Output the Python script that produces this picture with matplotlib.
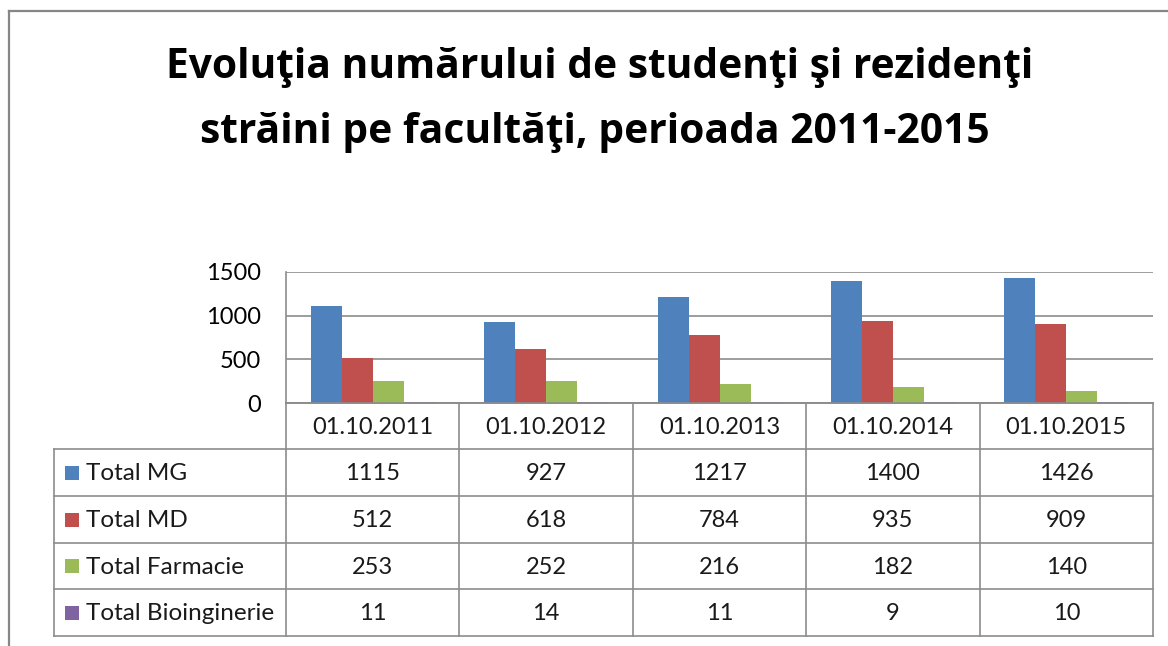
import matplotlib
matplotlib.use("Agg")
import matplotlib.pyplot as plt
from matplotlib.patches import Rectangle
from matplotlib.lines import Line2D

W, H = 1168, 646

title_lines = ["Evoluţia numărului de studenţi şi rezidenţi",
               "străini pe facultăţi, perioada 2011-2015"]
categories = ["01.10.2011", "01.10.2012", "01.10.2013", "01.10.2014", "01.10.2015"]
series_names = ["Total MG", "Total MD", "Total Farmacie", "Total Bioinginerie"]
total_mg = [1115, 927, 1217, 1400, 1426]
total_md = [512, 618, 784, 935, 909]
total_farmacie = [253, 252, 216, 182, 140]
total_bioinginerie = [11, 14, 11, 9, 10]
yticks = [0, 500, 1000, 1500]

series = [total_mg, total_md, total_farmacie, total_bioinginerie]
colors = ["#4F81BD", "#C0504D", "#9BBB59", "#8064A2"]
FONT = "Lato"
TFONT = "Open Sans"
grid_c = "#8C8C8C"

fig = plt.figure(figsize=(W / 100, H / 100), dpi=100)

def fx(px):
    return px / W

def fy(py):
    return 1 - py / H

# outer frame (left and top edges visible)
fig.add_artist(Line2D([fx(9), fx(9)], [fy(11), fy(700)], transform=fig.transFigure,
                      color="#868686", lw=1.6))
fig.add_artist(Line2D([fx(9), fx(1200)], [fy(11), fy(11)], transform=fig.transFigure,
                      color="#868686", lw=1.6))

fig.text(fx(600), fy(78), title_lines[0], ha="center", va="baseline", fontsize=29.3,
         fontweight="bold", family=TFONT, color="#000000")
fig.text(fx(595), fy(143), title_lines[1], ha="center", va="baseline", fontsize=29.3,
         fontweight="bold", family=TFONT, color="#000000")

# plot area
pl, pr, pt, pb = 286, 1153, 272, 403
ax = fig.add_axes([fx(pl), fy(pb), fx(pr) - fx(pl), fy(pt) - fy(pb)])
n = len(categories)
bw = 31 / 173.4
xs = list(range(n))
for i, (vals, c) in enumerate(zip(series, colors)):
    ax.bar([x + 0.5 + (i - 1.5) * bw for x in xs], vals, width=bw, color=c, zorder=3)
ax.set_xlim(0, n)
ax.set_ylim(0, 1500)
ax.set_yticks(yticks)
ax.set_yticklabels([str(t) for t in yticks], family=FONT, fontsize=17)
ax.tick_params(axis="y", length=0, pad=18)
ax.set_xticks([])
ax.grid(axis="y", color=grid_c, lw=1.2, zorder=0)
for s in ["top", "right"]:
    ax.spines[s].set_visible(False)
for s in ["left", "bottom"]:
    ax.spines[s].set_color(grid_c)
    ax.spines[s].set_linewidth(1.2)

# data table
tax = fig.add_axes([0, 0, 1, 1])
tax.set_xlim(0, W)
tax.set_ylim(H, 0)
tax.axis("off")
col_edges = [pl + (pr - pl) * k / n for k in range(n + 1)]
row_edges = [403, 449, 496, 543, 589, 636]
lc = "#8C8C8C"
lw = 1.2
left = 54
for xe in col_edges:
    tax.add_line(Line2D([xe, xe], [row_edges[0], row_edges[-1]], color=lc, lw=lw))
tax.add_line(Line2D([left, left], [row_edges[1], row_edges[-1]], color=lc, lw=lw))
for k, ye in enumerate(row_edges):
    x0 = col_edges[0] if k == 0 else left
    tax.add_line(Line2D([x0, pr], [ye, ye], color=lc, lw=lw))

for j, cat in enumerate(categories):
    tax.text((col_edges[j] + col_edges[j + 1]) / 2, (row_edges[0] + row_edges[1]) / 2 + 1,
             cat, ha="center", va="center", fontsize=17, family=FONT, color="#1a1a1a")
for i, (name, vals, c) in enumerate(zip(series_names, series, colors)):
    yc = (row_edges[i + 1] + row_edges[i + 2]) / 2
    tax.add_patch(Rectangle((65, yc - 7), 14, 14, facecolor=c, edgecolor="none"))
    tax.text(86, yc + 1, name, ha="left", va="center", fontsize=17.5, family=FONT, color="#1a1a1a")
    for j, v in enumerate(vals):
        tax.text((col_edges[j] + col_edges[j + 1]) / 2, yc + 1, str(v), ha="center",
                 va="center", fontsize=17, family=FONT, color="#1a1a1a")

fig.savefig("out.png", dpi=100)
